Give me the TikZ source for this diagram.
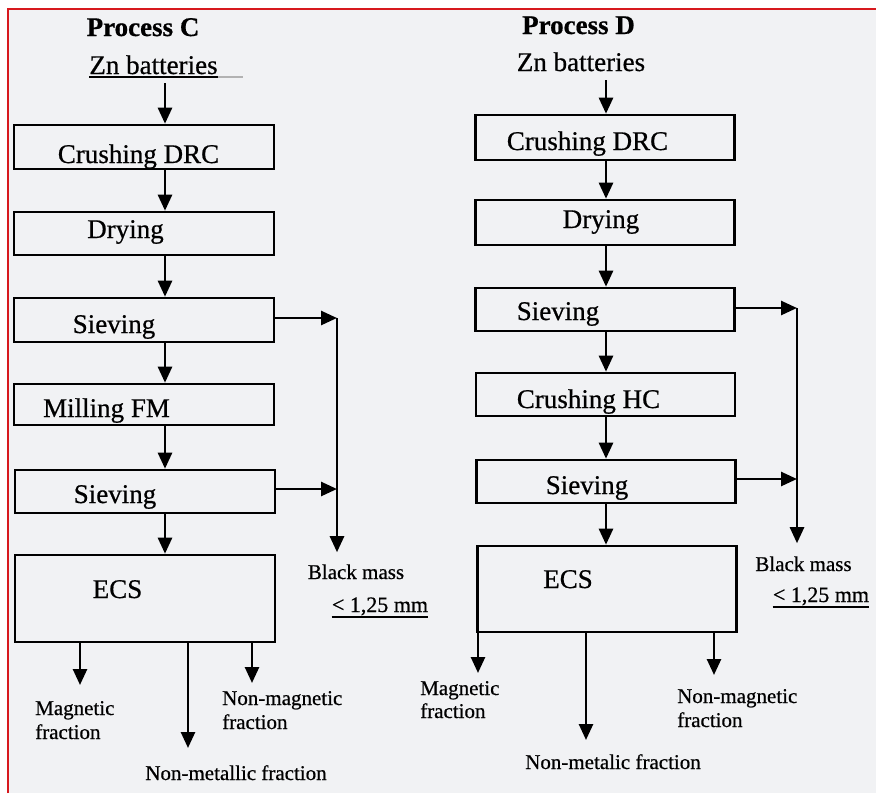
\documentclass[tikz,border=0pt]{standalone}
\usepackage{fontspec}
\setmainfont{Liberation Serif}[FakeBold=0.6]
\usetikzlibrary{arrows.meta,calc}
\definecolor{paper}{RGB}{241,242,244}
\definecolor{framered}{RGB}{215,25,30}
\begin{document}
\begin{tikzpicture}[x=1pt,y=-1pt,
  box/.style={draw=black,line width=2.6pt,minimum width=260pt,inner sep=0pt,rectangle},
  big/.style={font=\fontsize{27}{27}\selectfont,inner sep=0pt,anchor=base},
  bigb/.style={font=\fontsize{27}{27}\selectfont\bfseries,inner sep=0pt,anchor=base},
  small/.style={font=\fontsize{21}{21}\selectfont,inner sep=0pt,anchor=base},
  smallw/.style={font=\fontsize{21}{21}\selectfont,inner sep=0pt,anchor=base west},
  mm/.style={font=\fontsize{22}{22}\selectfont,inner sep=0pt,anchor=base},
  arr/.style={line width=2.6pt,-{Triangle[length=16pt,width=14pt]}},
  uline/.style={line width=1.5pt}]
\useasboundingbox (0,0) rectangle (876,793);
\fill[white] (0,0) rectangle (876,793);
\fill[paper] (8,9) rectangle (876,793);
\draw[framered,line width=2pt] (8,793) -- (8,9) -- (876,9);

% ---------- Process C ----------
\node[bigb] (ttlC) at (143,36) {Process C};
\node[big] (znL) at (153.5,74) {Zn batteries};
\draw[uline] ([yshift=-3pt]znL.base west) -- ([yshift=-3pt]znL.base east);
\draw[uline,gray!60] ([yshift=-3pt]znL.base east) -- ++(25,0);

\node[box,minimum height=44pt] (cdL) at (144,147) {};
\node[box,minimum height=43pt] (dryL) at (144,233.5) {};
\node[box,minimum height=44pt] (sv1L) at (144,320) {};
\node[box,minimum height=41pt] (millL) at (144,404.5) {};
\node[box,minimum height=43pt] (sv2L) at (145,491.5) {};
\node[box,minimum height=87pt] (ecsL) at (145,598.5) {};

\node[big] (tcdL) at (138.5,163) {Crushing DRC};
\node[big] (tdryL) at (125.5,238) {Drying};
\node[big] (tsv1L) at (114,333) {Sieving};
\node[big] (tmillL) at (106.5,417) {Milling FM};
\node[big] (tsv2L) at (115,503) {Sieving};
\node[big] (tecsL) at (117.5,598) {ECS};

\node[small] (bmL) at (356,579) {Black mass};
\node[mm] (lessL) at (380,612) {< 1,25 mm};
\draw[uline] ([yshift=-5pt]lessL.base west) -- ([yshift=-5pt]lessL.base east);

\node[smallw] (magL1) at (35,715) {Magnetic};
\node[smallw] (magL2) at (35,739) {fraction};
\node[smallw] (nmagL1) at (222,705) {Non-magnetic};
\node[smallw] (nmagL2) at (222,729) {fraction};
\node[small] (nmetL) at (236,780) {Non-metallic fraction};

\coordinate (aL) at (165,0);
\draw[arr,shorten <=9pt] (znL.south -| aL) -- (cdL.north -| aL);
\draw[arr] (cdL.south -| aL) -- (dryL.north -| aL);
\draw[arr] (dryL.south -| aL) -- (sv1L.north -| aL);
\draw[arr] (sv1L.south -| aL) -- (millL.north -| aL);
\draw[arr] (millL.south -| aL) -- (sv2L.north -| aL);
\draw[arr] (sv2L.south -| aL) -- (ecsL.north -| aL);

\coordinate (bL1) at (337,318);
\coordinate (bL2) at (337,489);
\draw[arr] (sv1L.east |- bL1) -- (bL1);
\draw[arr] (sv2L.east |- bL2) -- (bL2);
\draw[arr,shorten >=12pt] (bL1) -- (bmL.north -| bL1);

\coordinate (mL) at (80,685);
\coordinate (xL) at (188,748);
\coordinate (nL) at (252,683);
\draw[arr] (ecsL.south -| mL) -- (mL);
\draw[arr] (ecsL.south -| xL) -- (xL);
\draw[arr] (ecsL.south -| nL) -- (nL);

% ---------- Process D ----------
\node[bigb] (ttlD) at (578.5,34) {Process D};
\node[big] (znR) at (581,71) {Zn batteries};

\node[box,minimum width=259pt,minimum height=45pt] (cdR) at (605,137.5) {};
\node[box,minimum width=259pt,minimum height=45pt] (dryR) at (605,222.5) {};
\node[box,minimum width=259pt,minimum height=43pt] (sv1R) at (605,309.5) {};
\node[box,minimum width=259pt,minimum height=43pt] (chcR) at (605.5,394.5) {};
\node[box,minimum width=259pt,minimum height=43pt] (sv2R) at (606,481.5) {};
\node[box,minimum width=259pt,minimum height=86pt] (ecsR) at (607,589) {};

\node[big] (tcdR) at (587.5,150) {Crushing DRC};
\node[big] (tdryR) at (601,228) {Drying};
\node[big] (tsv1R) at (558,320) {Sieving};
\node[big] (tchcR) at (588.5,408) {Crushing HC};
\node[big] (tsv2R) at (587,494) {Sieving};
\node[big] (tecsR) at (568,588) {ECS};

\node[small] (bmR) at (803.5,571) {Black mass};
\node[mm] (lessR) at (821,602) {< 1,25 mm};
\draw[uline] ([yshift=-5pt]lessR.base west) -- ([yshift=-5pt]lessR.base east);

\node[smallw] (magR1) at (420,695) {Magnetic};
\node[smallw] (magR2) at (420,718) {fraction};
\node[smallw] (nmagR1) at (677,703) {Non-magnetic};
\node[smallw] (nmagR2) at (677,727) {fraction};
\node[small] (nmetR) at (613,769) {Non-metalic fraction};

\coordinate (aR) at (606,0);
\draw[arr,shorten <=9pt] (znR.south -| aR) -- (cdR.north -| aR);
\draw[arr] (cdR.south -| aR) -- (dryR.north -| aR);
\draw[arr] (dryR.south -| aR) -- (sv1R.north -| aR);
\draw[arr] (sv1R.south -| aR) -- (chcR.north -| aR);
\draw[arr] (chcR.south -| aR) -- (sv2R.north -| aR);
\draw[arr] (sv2R.south -| aR) -- (ecsR.north -| aR);

\coordinate (bR1) at (797,308);
\coordinate (bR2) at (797,479);
\draw[arr] (sv1R.east |- bR1) -- (bR1);
\draw[arr] (sv2R.east |- bR2) -- (bR2);
\draw[arr,shorten >=13pt] (bR1) -- (bmR.north -| bR1);

\coordinate (mR) at (478,673);
\coordinate (xR) at (586,740);
\coordinate (nR) at (714,675);
\draw[arr] (ecsR.south -| mR) -- (mR);
\draw[arr] (ecsR.south -| xR) -- (xR);
\draw[arr] (ecsR.south -| nR) -- (nR);
\end{tikzpicture}
\end{document}
